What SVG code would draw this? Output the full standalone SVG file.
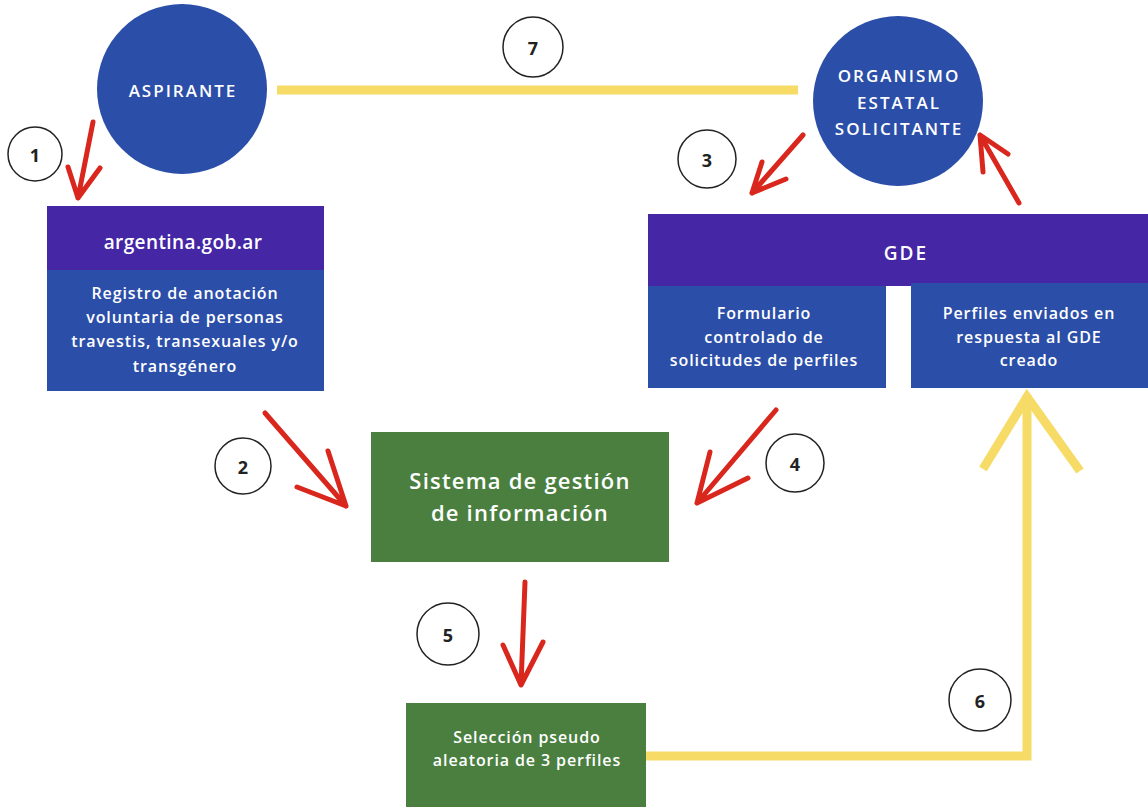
<svg xmlns="http://www.w3.org/2000/svg" width="1148" height="807" viewBox="0 0 1148 807">
<style>
.t{font-family:"Open Sans","Liberation Sans",sans-serif;font-weight:600;fill:#fff;text-anchor:middle;dominant-baseline:central}
.caps{font-size:17px;letter-spacing:2px}
.body{font-size:16px;letter-spacing:0.9px}
.num{font-family:"Open Sans","Liberation Sans",sans-serif;font-weight:bold;font-size:18px;fill:#222;text-anchor:middle;dominant-baseline:central}
.badge{fill:#fff;stroke:#222;stroke-width:1.5}
.red{fill:none;stroke:#d9271d;stroke-width:5;stroke-linecap:round;stroke-linejoin:round}
.yel{fill:none;stroke:#f6dc67;stroke-width:9}
.blue{fill:#2b4ea9}
.purple{fill:#4526a5}
.green{fill:#4a7f3f}
</style>
<rect width="1148" height="807" fill="#fff"/>
<g id="connectors">
<line class="yel" x1="277" y1="90" x2="798" y2="90"/>
<polyline class="yel" points="646,756 1027,756 1027,395"/>
<polyline class="yel" points="983,469 1027,397 1080,471"/>
<path class="red" d="M93,122 L78,198 M68,167 L78,198 L100,168"/>
<path class="red" d="M265,413 L346,506 M328,451 L346,506 L297,487"/>
<path class="red" d="M803,135 L752,193 M762,162 L752,193 L786,179"/>
<path class="red" d="M776,410 L697,503 M710,452 L697,503 L748,478"/>
<path class="red" d="M525,582 L521,685 M503,645 L521,685 L543,642"/>
<path class="red" d="M1019,203 L980,135 M983,172 L980,135 L1008,154"/>
</g>
<g id="aspirante">
<circle cx="182" cy="89" r="85" class="blue"/>
<text class="t caps" x="183" y="90">ASPIRANTE</text>
</g>
<g id="organismo">
<circle cx="898" cy="101" r="85" class="blue"/>
<text class="t caps" x="899" y="75">ORGANISMO</text>
<text class="t caps" x="899" y="102">ESTATAL</text>
<text class="t caps" x="899" y="128">SOLICITANTE</text>
</g>
<g id="argentina">
<rect x="47" y="206" width="277" height="64" class="purple"/>
<rect x="47" y="270" width="277" height="121" class="blue"/>
<text class="t" x="183" y="242" font-size="19" letter-spacing="0.4">argentina.gob.ar</text>
<text class="t body" x="185" y="293">Registro de anotación</text>
<text class="t body" x="185" y="317">voluntaria de personas</text>
<text class="t body" x="185" y="341">travestis, transexuales y/o</text>
<text class="t body" x="185" y="366">transgénero</text>
</g>
<g id="gde">
<rect x="648" y="214" width="500" height="72" class="purple"/>
<text class="t" x="906" y="253" font-size="19" letter-spacing="2">GDE</text>
</g>
<g id="formulario">
<rect x="648" y="286" width="238" height="102" class="blue"/>
<text class="t body" x="764" y="313">Formulario</text>
<text class="t body" x="764" y="337">controlado de</text>
<text class="t body" x="764" y="360">solicitudes de perfiles</text>
</g>
<g id="perfiles">
<rect x="911" y="283" width="237" height="105" class="blue"/>
<text class="t body" x="1029" y="313">Perfiles enviados en</text>
<text class="t body" x="1029" y="337">respuesta al GDE</text>
<text class="t body" x="1029" y="360">creado</text>
</g>
<g id="sistema">
<rect x="371" y="432" width="298" height="130" class="green"/>
<text class="t" x="520" y="480" font-size="22" letter-spacing="1.2">Sistema de gestión</text>
<text class="t" x="520" y="512" font-size="22" letter-spacing="1.2">de información</text>
</g>
<g id="seleccion">
<rect x="406" y="703" width="240" height="104" class="green"/>
<text class="t body" x="527" y="737">Selección pseudo</text>
<text class="t body" x="527" y="760">aleatoria de 3 perfiles</text>
</g>
<g id="badges">
<circle class="badge" cx="35" cy="154" r="27"/><text class="num" x="35" y="155">1</text>
<circle class="badge" cx="243" cy="466" r="28"/><text class="num" x="243" y="467">2</text>
<circle class="badge" cx="707" cy="159" r="29"/><text class="num" x="707" y="160">3</text>
<circle class="badge" cx="795" cy="463" r="29"/><text class="num" x="795" y="464">4</text>
<circle class="badge" cx="448" cy="634" r="31"/><text class="num" x="448" y="635">5</text>
<circle class="badge" cx="980" cy="700" r="31"/><text class="num" x="980" y="701">6</text>
<circle class="badge" cx="533" cy="47" r="30"/><text class="num" x="533" y="48">7</text>
</g>
</svg>
